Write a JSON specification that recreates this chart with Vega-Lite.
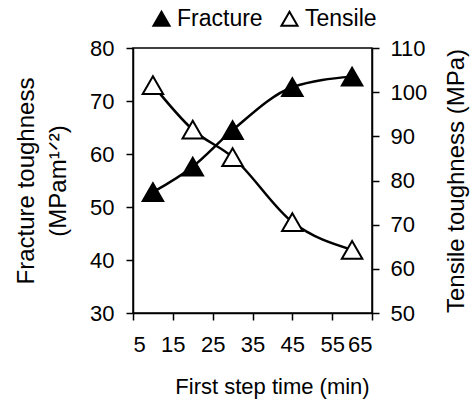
{
  "$schema": "https://vega.github.io/schema/vega-lite/v6.json",
  "width": 239,
  "height": 265,
  "autosize": {"type": "none"},
  "padding": {"left": 133, "top": 48, "right": 99, "bottom": 87},
  "background": "white",
  "config": {
    "font": "Liberation Sans",
    "view": {"stroke": "black", "strokeWidth": 1.5},
    "axis": {
      "grid": false,
      "domainColor": "black",
      "domainWidth": 1.5,
      "tickColor": "black",
      "tickWidth": 1.5,
      "tickSize": 7,
      "labelColor": "black",
      "titleColor": "black",
      "labelFontSize": 22,
      "titleFontSize": 24,
      "titleFontWeight": "normal",
      "labelFont": "Liberation Sans",
      "titleFont": "Liberation Sans"
    }
  },
  "data": {
    "values": [
      {"time": 10, "series": "Fracture", "value": 52.8},
      {"time": 20, "series": "Fracture", "value": 57.6},
      {"time": 30, "series": "Fracture", "value": 64.5},
      {"time": 45, "series": "Fracture", "value": 72.6},
      {"time": 60, "series": "Fracture", "value": 74.6},
      {"time": 10, "series": "Tensile", "value": 101.6},
      {"time": 20, "series": "Tensile", "value": 91.5},
      {"time": 30, "series": "Tensile", "value": 85.3},
      {"time": 45, "series": "Tensile", "value": 70.6},
      {"time": 60, "series": "Tensile", "value": 64.3}
    ]
  },
  "encoding": {
    "x": {
      "field": "time",
      "type": "quantitative",
      "scale": {"domain": [5, 65], "nice": false, "zero": false},
      "axis": {
        "values": [5, 15, 25, 35, 45, 55, 65],
        "title": "First step time (min)",
        "titleFontSize": 22,
        "labelPadding": 14,
        "titlePadding": 21,
        "titleX": 139
      }
    }
  },
  "layer": [
    {
      "transform": [{"filter": "datum.series === 'Fracture'"}],
      "encoding": {
        "y": {
          "field": "value",
          "type": "quantitative",
          "scale": {"domain": [30, 80], "nice": false, "zero": false},
          "axis": {
            "orient": "left",
            "values": [30, 40, 50, 60, 70, 80],
            "title": ["Fracture toughness", "(MPam¹ᐟ²)"],
            "titleLineHeight": 32,
            "labelPadding": 12,
            "titlePadding": 19
          }
        }
      },
      "layer": [
        {
          "mark": {"type": "line", "color": "black", "strokeWidth": 2.5, "interpolate": "monotone"}
        },
        {
          "mark": {"type": "point", "shape": "triangle-up", "filled": true, "stroke": "black", "strokeWidth": 2, "size": 420, "opacity": 1},
          "encoding": {
            "fill": {"field": "series", "type": "nominal", "scale": {"domain": ["Fracture", "Tensile"], "range": ["black", "white"]},
              "legend": {
                "title": null,
                "orient": "none",
                "direction": "horizontal",
                "legendX": 17,
                "legendY": -41,
                "labelFontSize": 23,
                "labelColor": "black",
                "symbolType": "triangle-up",
                "symbolSize": 260,
                "symbolStrokeColor": "black",
                "symbolStrokeWidth": 2,
                "symbolOpacity": 1,
                "columnPadding": 14,
                "labelOffset": 4
              }
            }
          }
        }
      ]
    },
    {
      "transform": [{"filter": "datum.series === 'Tensile'"}],
      "encoding": {
        "y": {
          "field": "value",
          "type": "quantitative",
          "scale": {"domain": [50, 110], "nice": false, "zero": false},
          "axis": {
            "orient": "right",
            "values": [50, 60, 70, 80, 90, 100, 110],
            "title": "Tensile toughness (MPa)",
            "titleAngle": 270,
            "labelPadding": 11,
            "titlePadding": 42
          }
        }
      },
      "layer": [
        {
          "mark": {"type": "line", "color": "black", "strokeWidth": 2.5, "interpolate": "monotone"}
        },
        {
          "mark": {"type": "point", "shape": "triangle-up", "filled": true, "stroke": "black", "strokeWidth": 2, "size": 420, "opacity": 1},
          "encoding": {
            "fill": {"field": "series", "type": "nominal"}
          }
        }
      ]
    }
  ],
  "resolve": {"scale": {"y": "independent"}}
}
